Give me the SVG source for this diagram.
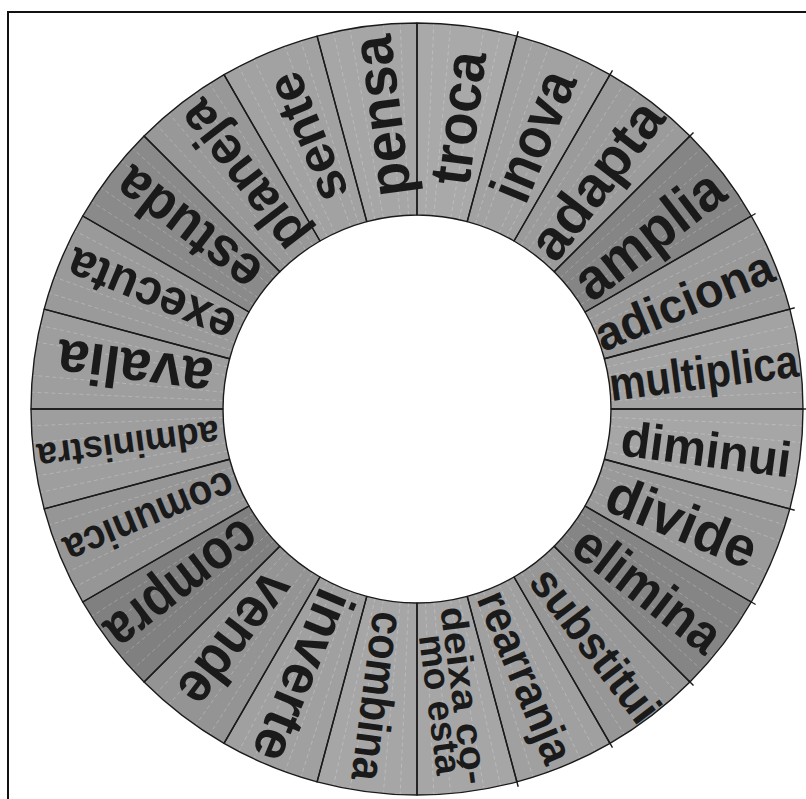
<svg xmlns="http://www.w3.org/2000/svg" xmlns:xlink="http://www.w3.org/1999/xlink" width="806" height="799" viewBox="0 0 806 799">
<style>
.o{fill:none;stroke:#1a1a1a;stroke-width:1.4;stroke-linejoin:round}
.t{font-family:"Liberation Sans",Arial,Helvetica,sans-serif;font-weight:bold;fill:#1a1a1a;text-anchor:middle}
.st{stroke:#ffffff;stroke-opacity:0.3;stroke-width:0.7;stroke-dasharray:4 3;fill:none}
.tk{stroke:#1a1a1a;stroke-width:1.4}
</style>
<defs>
<path id="wp" d="M609.34 383.68 L799.70 358.62 A386 386 0 0 1 799.70 459.38 L609.34 434.32 A194 194 0 0 0 609.34 383.68 Z"/>
<g id="sl" class="st">
<line x1="610.82" y1="400.54" x2="802.63" y2="392.16"/>
<line x1="610.82" y1="417.46" x2="802.63" y2="425.84"/>
<line x1="610.26" y1="392.09" x2="801.53" y2="375.36"/>
<line x1="610.26" y1="425.91" x2="801.53" y2="442.64"/>
</g>
</defs>
<rect x="8" y="12" width="900" height="900" fill="#ffffff" stroke="#111" stroke-width="2"/>
<g id="ring-fill">
<use href="#wp" transform="rotate(-82.5 417 409)" fill="#a9a9a9"/>
<use href="#wp" transform="rotate(-67.5 417 409)" fill="#a2a2a2"/>
<use href="#wp" transform="rotate(-52.5 417 409)" fill="#9b9b9b"/>
<use href="#wp" transform="rotate(-37.5 417 409)" fill="#858585"/>
<use href="#wp" transform="rotate(-22.5 417 409)" fill="#999999"/>
<use href="#wp" transform="rotate(-7.5 417 409)" fill="#a3a3a3"/>
<use href="#wp" transform="rotate(7.5 417 409)" fill="#a6a6a6"/>
<use href="#wp" transform="rotate(22.5 417 409)" fill="#9a9a9a"/>
<use href="#wp" transform="rotate(37.5 417 409)" fill="#858585"/>
<use href="#wp" transform="rotate(52.5 417 409)" fill="#979797"/>
<use href="#wp" transform="rotate(67.5 417 409)" fill="#a0a0a0"/>
<use href="#wp" transform="rotate(82.5 417 409)" fill="#a6a6a6"/>
<use href="#wp" transform="rotate(97.5 417 409)" fill="#a6a6a6"/>
<use href="#wp" transform="rotate(112.5 417 409)" fill="#a0a0a0"/>
<use href="#wp" transform="rotate(127.5 417 409)" fill="#949494"/>
<use href="#wp" transform="rotate(142.5 417 409)" fill="#808080"/>
<use href="#wp" transform="rotate(157.5 417 409)" fill="#969696"/>
<use href="#wp" transform="rotate(172.5 417 409)" fill="#9e9e9e"/>
<use href="#wp" transform="rotate(187.5 417 409)" fill="#9e9e9e"/>
<use href="#wp" transform="rotate(202.5 417 409)" fill="#9a9a9a"/>
<use href="#wp" transform="rotate(217.5 417 409)" fill="#8a8a8a"/>
<use href="#wp" transform="rotate(232.5 417 409)" fill="#989898"/>
<use href="#wp" transform="rotate(247.5 417 409)" fill="#a2a2a2"/>
<use href="#wp" transform="rotate(262.5 417 409)" fill="#a6a6a6"/>
</g>
<g id="n-troca" transform="rotate(-82.5 417 409)"><use href="#sl"/><use href="#wp" class="o"/><text class="t" x="711" y="431.6" font-size="58" textLength="134" lengthAdjust="spacingAndGlyphs">troca</text></g>
<g id="n-inova" transform="rotate(-67.5 417 409)"><use href="#sl"/><use href="#wp" class="o"/><text class="t" x="714" y="431.6" font-size="58" textLength="136" lengthAdjust="spacingAndGlyphs">inova</text></g>
<g id="n-adapta" transform="rotate(-52.5 417 409)"><use href="#sl"/><use href="#wp" class="o"/><text class="t" x="708" y="430.8" font-size="56" textLength="184" lengthAdjust="spacingAndGlyphs">adapta</text></g>
<g id="n-amplia" transform="rotate(-37.5 417 409)"><use href="#sl"/><use href="#wp" class="o"/><text class="t" x="707" y="431.6" font-size="58" textLength="174" lengthAdjust="spacingAndGlyphs">amplia</text></g>
<g id="n-adiciona" transform="rotate(-22.5 417 409)"><use href="#sl"/><use href="#wp" class="o"/><text class="t" x="705" y="427.7" font-size="48" textLength="189" lengthAdjust="spacingAndGlyphs">adiciona</text></g>
<g id="n-multiplica" transform="rotate(-7.5 417 409)"><use href="#sl"/><use href="#wp" class="o"/><text class="t" x="706" y="426.5" font-size="47" textLength="190" lengthAdjust="spacingAndGlyphs">multiplica</text></g>
<g id="n-diminui" transform="rotate(7.5 417 409)"><use href="#sl"/><use href="#wp" class="o"/><text class="t" x="709" y="428.5" font-size="50" textLength="171" lengthAdjust="spacingAndGlyphs">diminui</text></g>
<g id="n-divide" transform="rotate(22.5 417 409)"><use href="#sl"/><use href="#wp" class="o"/><text class="t" x="705" y="430.8" font-size="56" textLength="158" lengthAdjust="spacingAndGlyphs">divide</text></g>
<g id="n-elimina" transform="rotate(37.5 417 409)"><use href="#sl"/><use href="#wp" class="o"/><text class="t" x="710" y="430.1" font-size="54" textLength="172" lengthAdjust="spacingAndGlyphs">elimina</text></g>
<g id="n-substitui" transform="rotate(52.5 417 409)"><use href="#sl"/><use href="#wp" class="o"/><text class="t" x="713" y="426.9" font-size="46" textLength="182" lengthAdjust="spacingAndGlyphs">substitui</text></g>
<g id="n-rearranja" transform="rotate(67.5 417 409)"><use href="#sl"/><use href="#wp" class="o"/><text class="t" x="706" y="426.9" font-size="46" textLength="182" lengthAdjust="spacingAndGlyphs">rearranja</text></g>
<g id="n-deixa" transform="rotate(82.5 417 409)"><use href="#sl"/><use href="#wp" class="o"/><text class="t" x="707" y="412" font-size="37" textLength="179" lengthAdjust="spacingAndGlyphs">deixa co-</text><text class="t" x="713" y="437" font-size="37" textLength="141" lengthAdjust="spacingAndGlyphs">mo está</text></g>
<g id="n-combina" transform="rotate(97.5 417 409)"><use href="#sl"/><use href="#wp" class="o"/><text class="t" x="707" y="426" font-size="46" textLength="170" lengthAdjust="spacingAndGlyphs">combina</text></g>
<g id="n-inverte" transform="rotate(112.5 417 409)"><use href="#sl"/><use href="#wp" class="o"/><text class="t" x="707" y="430.8" font-size="56" textLength="181" lengthAdjust="spacingAndGlyphs">inverte</text></g>
<g id="n-vende" transform="rotate(127.5 417 409)"><use href="#sl"/><use href="#wp" class="o"/><text class="t" x="710" y="431.6" font-size="58" textLength="152" lengthAdjust="spacingAndGlyphs">vende</text></g>
<g id="n-compra" transform="rotate(142.5 417 409)"><use href="#sl"/><use href="#wp" class="o"/><text class="t" x="710" y="430.8" font-size="56" textLength="178" lengthAdjust="spacingAndGlyphs">compra</text></g>
<g id="n-comunica" transform="rotate(157.5 417 409)"><use href="#sl"/><use href="#wp" class="o"/><text class="t" x="706" y="425.4" font-size="42" textLength="180" lengthAdjust="spacingAndGlyphs">comunica</text></g>
<g id="n-administra" transform="rotate(172.5 417 409)"><use href="#sl"/><use href="#wp" class="o"/><text class="t" x="708" y="423.8" font-size="38" textLength="183" lengthAdjust="spacingAndGlyphs">administra</text></g>
<g id="n-avalia" transform="rotate(187.5 417 409)"><use href="#sl"/><use href="#wp" class="o"/><text class="t" x="702" y="431.6" font-size="58" textLength="156" lengthAdjust="spacingAndGlyphs">avalia</text></g>
<g id="n-executa" transform="rotate(202.5 417 409)"><use href="#sl"/><use href="#wp" class="o"/><text class="t" x="706" y="428.5" font-size="50" textLength="177" lengthAdjust="spacingAndGlyphs">executa</text></g>
<g id="n-estuda" transform="rotate(217.5 417 409)"><use href="#sl"/><use href="#wp" class="o"/><text class="t" x="708" y="430.8" font-size="56" textLength="168" lengthAdjust="spacingAndGlyphs">estuda</text></g>
<g id="n-planeja" transform="rotate(232.5 417 409)"><use href="#sl"/><use href="#wp" class="o"/><text class="t" x="708" y="430.1" font-size="54" textLength="175" lengthAdjust="spacingAndGlyphs">planeja</text></g>
<g id="n-sente" transform="rotate(247.5 417 409)"><use href="#sl"/><use href="#wp" class="o"/><text class="t" x="710" y="429.3" font-size="52" textLength="135" lengthAdjust="spacingAndGlyphs">sente</text></g>
<g id="n-pensa" transform="rotate(262.5 417 409)"><use href="#sl"/><use href="#wp" class="o"/><text class="t" x="712" y="431.6" font-size="58" textLength="162" lengthAdjust="spacingAndGlyphs">pensa</text></g>
<g id="connectors" class="tk">
<line x1="516.4" y1="38.1" x2="518.2" y2="31.3"/>
<line x1="609.0" y1="76.4" x2="612.5" y2="70.4"/>
<line x1="688.5" y1="137.5" x2="693.5" y2="132.5"/>
<line x1="749.6" y1="217.0" x2="755.6" y2="213.5"/>
<line x1="787.9" y1="309.6" x2="794.7" y2="307.8"/>
<line x1="801" y1="409" x2="808" y2="409"/>
<line x1="787.9" y1="508.4" x2="794.7" y2="510.2"/>
<line x1="749.6" y1="601.0" x2="755.6" y2="604.5"/>
<line x1="688.5" y1="680.5" x2="693.5" y2="685.5"/>
<line x1="609.0" y1="741.6" x2="612.5" y2="747.6"/>
<line x1="516.4" y1="779.9" x2="518.2" y2="786.7"/>
</g>
</svg>
